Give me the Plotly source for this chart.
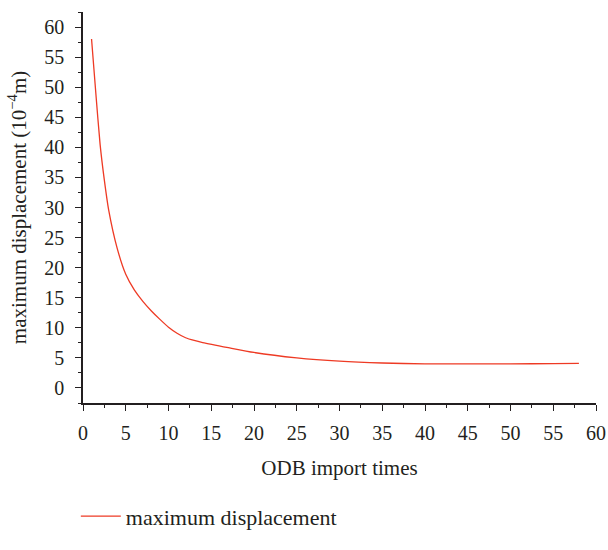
import plotly.graph_objects as go

odb_times = [1, 1.5, 2, 2.5, 3, 4, 5, 6, 7, 8, 9, 10, 11, 12, 13, 14, 17, 20, 25, 30, 35, 40, 45, 50, 55, 58]
max_disp = [58, 49, 40.5, 34.5, 29.6, 23.2, 18.9, 16.3, 14.4, 12.8, 11.4, 10.1, 9.1, 8.35, 7.9, 7.55, 6.7, 5.9, 5.0, 4.45, 4.15, 4.0, 4.0, 4.0, 4.05, 4.1]

series_name = "maximum displacement"
x_title = "ODB import times"
y_title = "maximum displacement (10<sup>−4</sup>m)"

font_family = "Liberation Serif"
text_color = "#231f20"
line_color = "#ee3a24"

fig = go.Figure()
fig.add_trace(go.Scatter(
    x=odb_times, y=max_disp, mode="lines", name=series_name,
    line=dict(color=line_color, width=1.3, shape="spline", smoothing=0.6),
))

axis_common = dict(
    showline=True, linecolor=text_color, linewidth=1.5,
    ticks="outside", ticklen=6, tickwidth=1.3, tickcolor=text_color,
    showgrid=False, zeroline=False, automargin=False,
    tickfont=dict(family=font_family, size=20, color=text_color),
    title_font=dict(family=font_family, size=21, color=text_color),
)

fig.update_xaxes(
    range=[0, 60], dtick=5, tick0=0,
    minor=dict(ticks="outside", ticklen=3, tickwidth=1.2, tickcolor=text_color, dtick=2.5, tick0=0),
    ticklabelstandoff=5,
    title=dict(text=x_title, standoff=18),
    **axis_common,
)
fig.update_yaxes(
    range=[-2.5, 62.5], dtick=5, tick0=0,
    minor=dict(ticks="outside", ticklen=3, tickwidth=1.2, tickcolor=text_color, dtick=2.5, tick0=0),
    ticklabelstandoff=7,
    title=dict(text=y_title, standoff=12),
    **axis_common,
)

fig.update_layout(
    width=608, height=550,
    margin=dict(l=83, r=12, t=12, b=130),
    paper_bgcolor="white", plot_bgcolor="white",
    showlegend=True,
    legend=dict(
        x=-0.014, xanchor="left", y=-0.29, yanchor="middle",
        itemwidth=40,
        font=dict(family=font_family, size=22, color=text_color),
        bgcolor="rgba(0,0,0,0)",
    ),
)

fig.write_html(
    "out.html",
    config={"displayModeBar": False},
    post_script="document.body.style.margin='0';document.body.style.overflow='hidden';document.documentElement.style.overflow='hidden';",
)
